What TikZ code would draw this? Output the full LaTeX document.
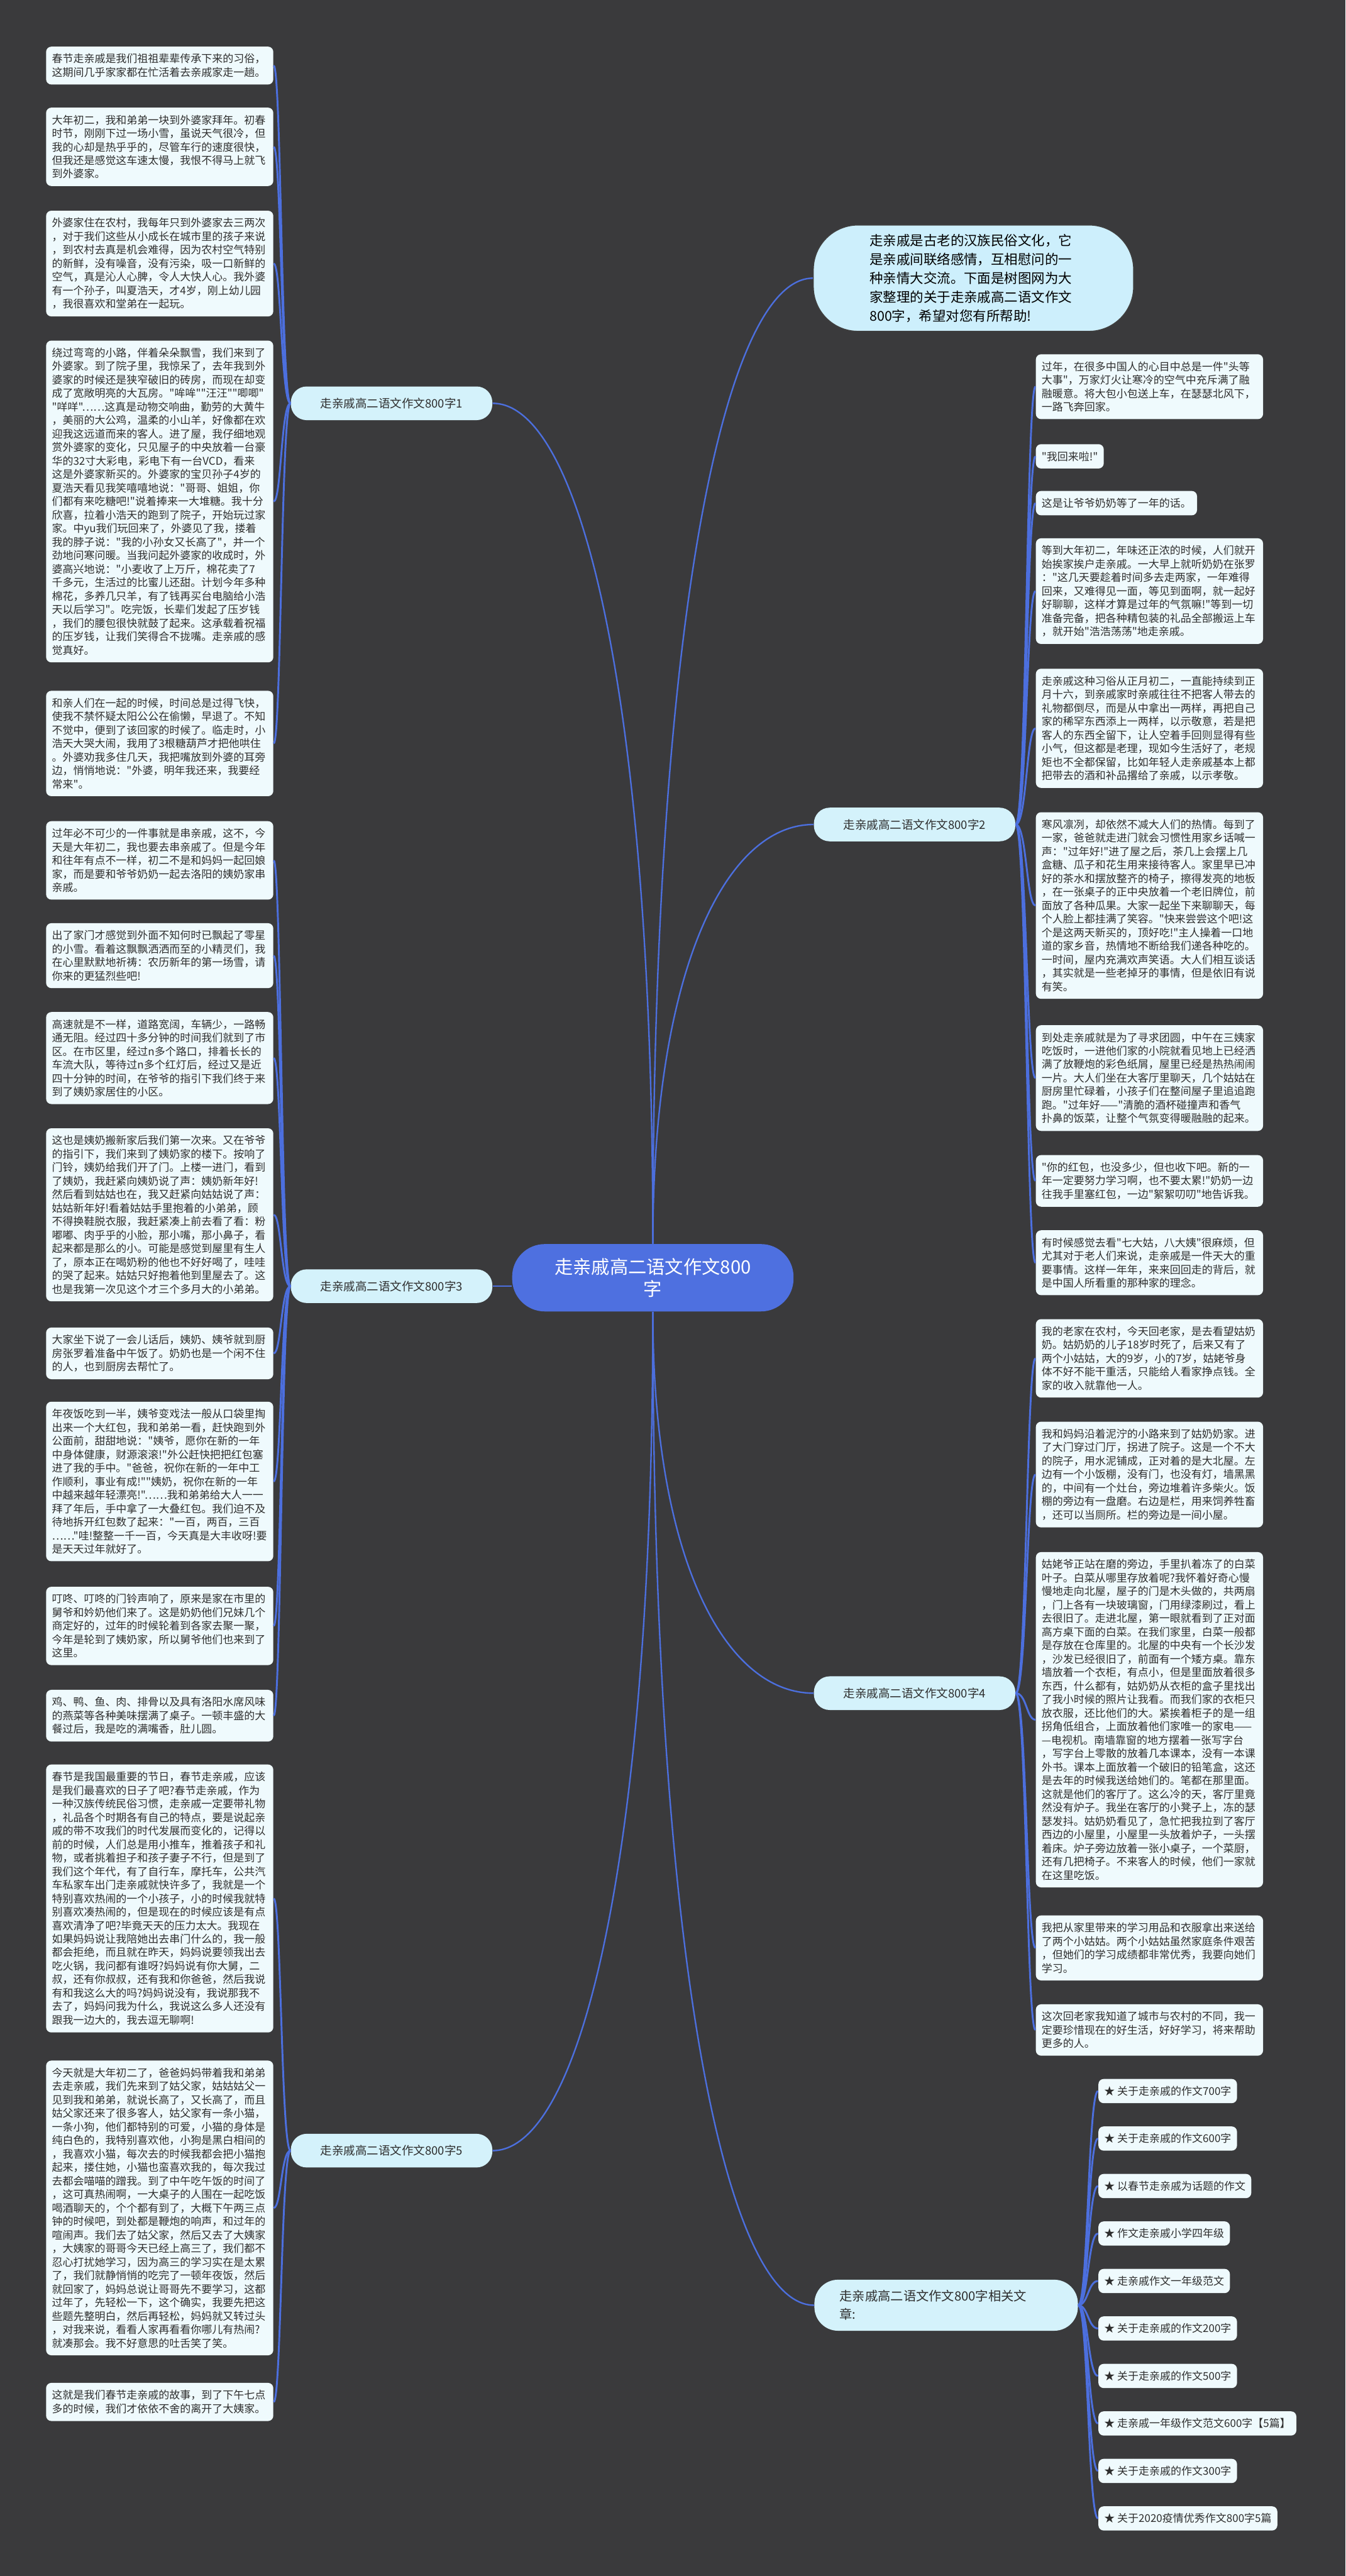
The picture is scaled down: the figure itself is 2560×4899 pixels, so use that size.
\documentclass[tikz,border=0pt]{standalone}
\usepackage{fontspec}
\setmainfont{Noto Sans CJK SC}[Ligatures=TeXOff]
\usepackage{xcolor}
\usepackage{tikz}
\usetikzlibrary{positioning}
\definecolor{bgdark}{HTML}{3A3A3C}
\definecolor{linkblue}{HTML}{4C6FDE}
\definecolor{rootblue}{HTML}{4E70E0}
\definecolor{leaffill}{HTML}{EFFAFD}
\definecolor{branchfill}{HTML}{D4F2FB}
\definecolor{bubblefill}{HTML}{CDEFFC}
\definecolor{leaftext}{HTML}{2E2E2E}

\begin{document}
\begin{tikzpicture}[x=0.01cm,y=-0.01cm,
  box/.style={anchor=north west,fill=leaffill,rounded corners=0.1cm,text=leaftext,font=\fontsize{5.78pt}{7.31pt}\selectfont,align=left,inner xsep=0.11cm,inner ysep=3.9pt},
  leaf/.style={box,text width=4.1cm},
  item/.style={box,minimum height=0.46cm,inner ysep=0pt},
  branch/.style={fill=branchfill,rounded corners=0.3cm,text=leaftext,font=\fontsize{6.3pt}{7.6pt}\selectfont,minimum width=3.83cm,minimum height=0.64cm,inner sep=0pt},
  root/.style={fill=rootblue,rounded corners=0.62cm,text=white,font=\fontsize{9.96pt}{12.2pt}\selectfont,align=center,minimum width=5.35cm,minimum height=1.28cm},
  bubble/.style={fill=bubblefill,draw=black!75,line width=0.5pt,rounded corners=0.85cm,text=black,font=\fontsize{7.3pt}{10.24pt}\selectfont,align=left,text width=3.95cm,minimum height=2.02cm,inner xsep=1.07cm},
  link/.style={draw=linkblue,line width=0.8pt},
  twig/.style={draw=linkblue,line width=1pt}]
  \fill[bgdark] (0,0) rectangle (2560,4899);

  % centre, intro and branches
  \node[root] (root) at (1242,2430) {走亲戚高二语文作文800\\字};
  \node[bubble] (intro) at (1852,529) {走亲戚是古老的汉族民俗文化，它\\是亲戚间联络感情，互相慰问的一\\种亲情大交流。下面是树图网为大\\家整理的关于走亲戚高二语文作文\\800字，希望对您有所帮助!};
  \node[branch] (br1) at (745,767) {走亲戚高二语文作文800字1};
  \node[branch] (br3) at (745,2446) {走亲戚高二语文作文800字3};
  \node[branch] (br5) at (745,4090) {走亲戚高二语文作文800字5};
  \node[branch] (br2) at (1740,1568) {走亲戚高二语文作文800字2};
  \node[branch] (br4) at (1740,3220) {走亲戚高二语文作文800字4};
  \node[branch,minimum width=5.0cm,minimum height=0.97cm,align=left,text width=4.05cm,inner xsep=0.48cm,rounded corners=0.45cm,font=\fontsize{6.9pt}{10pt}\selectfont] (rel) at (1800,4384) {走亲戚高二语文作文800字相关文\\章:};

  % left column
  \node[leaf] (b1) at (87,88) {春节走亲戚是我们祖祖辈辈传承下来的习俗，\\这期间几乎家家都在忙活着去亲戚家走一趟。};
  \node[leaf] (b2) at (87,204) {大年初二，我和弟弟一块到外婆家拜年。初春\\时节，刚刚下过一场小雪，虽说天气很冷，但\\我的心却是热乎乎的，尽管车行的速度很快，\\但我还是感觉这车速太慢，我恨不得马上就飞\\到外婆家。};
  \node[leaf] (b3) at (87,400) {外婆家住在农村，我每年只到外婆家去三两次\\，对于我们这些从小成长在城市里的孩子来说\\，到农村去真是机会难得，因为农村空气特别\\的新鲜，没有噪音，没有污染，吸一口新鲜的\\空气，真是沁人心脾，令人大快人心。我外婆\\有一个孙子，叫夏浩天，才4岁，刚上幼儿园\\，我很喜欢和堂弟在一起玩。};
  \node[leaf] (b4) at (87,647) {绕过弯弯的小路，伴着朵朵飘雪，我们来到了\\外婆家。到了院子里，我惊呆了，去年我到外\\婆家的时候还是狭窄破旧的砖房，而现在却变\\成了宽敞明亮的大瓦房。"哞哞""汪汪""唧唧"\\"咩咩"……这真是动物交响曲，勤劳的大黄牛\\，美丽的大公鸡，温柔的小山羊，好像都在欢\\迎我这远道而来的客人。进了屋，我仔细地观\\赏外婆家的变化，只见屋子的中央放着一台豪\\华的32寸大彩电，彩电下有一台VCD，看来\\这是外婆家新买的。外婆家的宝贝孙子4岁的\\夏浩天看见我笑嘻嘻地说："哥哥、姐姐，你\\们都有来吃糖吧!"说着捧来一大堆糖。我十分\\欣喜，拉着小浩天的跑到了院子，开始玩过家\\家。中yu我们玩回来了，外婆见了我，搂着\\我的脖子说："我的小孙女又长高了"，并一个\\劲地问寒问暖。当我问起外婆家的收成时，外\\婆高兴地说："小麦收了上万斤，棉花卖了7\\千多元，生活过的比蜜儿还甜。计划今年多种\\棉花，多养几只羊，有了钱再买台电脑给小浩\\天以后学习"。吃完饭，长辈们发起了压岁钱\\，我们的腰包很快就鼓了起来。这承载着祝福\\的压岁钱，让我们笑得合不拢嘴。走亲戚的感\\觉真好。};
  \node[leaf] (b5) at (87,1313) {和亲人们在一起的时候，时间总是过得飞快，\\使我不禁怀疑太阳公公在偷懒，早退了。不知\\不觉中，便到了该回家的时候了。临走时，小\\浩天大哭大闹，我用了3根糖葫芦才把他哄住\\。外婆劝我多住几天，我把嘴放到外婆的耳旁\\边，悄悄地说："外婆，明年我还来，我要经\\常来"。};
  \node[leaf] (b6) at (87,1561) {过年必不可少的一件事就是串亲戚，这不，今\\天是大年初二，我也要去串亲戚了。但是今年\\和往年有点不一样，初二不是和妈妈一起回娘\\家，而是要和爷爷奶奶一起去洛阳的姨奶家串\\亲戚。};
  \node[leaf] (b7) at (87,1755) {出了家门才感觉到外面不知何时已飘起了零星\\的小雪。看着这飘飘洒洒而至的小精灵们，我\\在心里默默地祈祷：农历新年的第一场雪，请\\你来的更猛烈些吧!};
  \node[leaf] (b8) at (87,1924) {高速就是不一样，道路宽阔，车辆少，一路畅\\通无阻。经过四十多分钟的时间我们就到了市\\区。在市区里，经过n多个路口，排着长长的\\车流大队，等待过n多个红灯后，经过又是近\\四十分钟的时间，在爷爷的指引下我们终于来\\到了姨奶家居住的小区。};
  \node[leaf] (b9) at (87,2145) {这也是姨奶搬新家后我们第一次来。又在爷爷\\的指引下，我们来到了姨奶家的楼下。按响了\\门铃，姨奶给我们开了门。上楼一进门，看到\\了姨奶，我赶紧向姨奶说了声：姨奶新年好!\\然后看到姑姑也在，我又赶紧向姑姑说了声：\\姑姑新年好!看着姑姑手里抱着的小弟弟，顾\\不得换鞋脱衣服，我赶紧凑上前去看了看：粉\\嘟嘟、肉乎乎的小脸，那小嘴，那小鼻子，看\\起来都是那么的小。可能是感觉到屋里有生人\\了，原本正在喝奶粉的他也不好好喝了，哇哇\\的哭了起来。姑姑只好抱着他到里屋去了。这\\也是我第一次见这个才三个多月大的小弟弟。};
  \node[leaf] (b10) at (87,2524) {大家坐下说了一会儿话后，姨奶、姨爷就到厨\\房张罗着准备中午饭了。奶奶也是一个闲不住\\的人，也到厨房去帮忙了。};
  \node[leaf] (b11) at (87,2665) {年夜饭吃到一半，姨爷变戏法一般从口袋里掏\\出来一个大红包，我和弟弟一看，赶快跑到外\\公面前，甜甜地说："姨爷，愿你在新的一年\\中身体健康，财源滚滚!"外公赶快把把红包塞\\进了我的手中。"爸爸，祝你在新的一年中工\\作顺利，事业有成!""姨奶，祝你在新的一年\\中越来越年轻漂亮!"……我和弟弟给大人一一\\拜了年后，手中拿了一大叠红包。我们迫不及\\待地拆开红包数了起来："一百，两百，三百\\……"哇!整整一千一百，今天真是大丰收呀!要\\是天天过年就好了。};
  \node[leaf] (b12) at (87,3017) {叮咚、叮咚的门铃声响了，原来是家在市里的\\舅爷和妗奶他们来了。这是奶奶他们兄妹几个\\商定好的，过年的时候轮着到各家去聚一聚，\\今年是轮到了姨奶家，所以舅爷他们也来到了\\这里。};
  \node[leaf] (b13) at (87,3213) {鸡、鸭、鱼、肉、排骨以及具有洛阳水席风味\\的燕菜等各种美味摆满了桌子。一顿丰盛的大\\餐过后，我是吃的满嘴香，肚儿圆。};
  \node[leaf] (b14) at (87,3355) {春节是我国最重要的节日，春节走亲戚，应该\\是我们最喜欢的日子了吧?春节走亲戚，作为\\一种汉族传统民俗习惯，走亲戚一定要带礼物\\，礼品各个时期各有自己的特点，要是说起亲\\戚的带不攻我们的时代发展而变化的，记得以\\前的时候，人们总是用小推车，推着孩子和礼\\物，或者挑着担子和孩子妻子不行，但是到了\\我们这个年代，有了自行车，摩托车，公共汽\\车私家车出门走亲戚就快许多了，我就是一个\\特别喜欢热闹的一个小孩子，小的时候我就特\\别喜欢凑热闹的，但是现在的时候应该是有点\\喜欢清净了吧?毕竟天天的压力太大。我现在\\如果妈妈说让我陪她出去串门什么的，我一般\\都会拒绝，而且就在昨天，妈妈说要领我出去\\吃火锅，我问都有谁呀?妈妈说有你大舅，二\\叔，还有你叔叔，还有我和你爸爸，然后我说\\有和我这么大的吗?妈妈说没有，我说那我不\\去了，妈妈问我为什么，我说这么多人还没有\\跟我一边大的，我去逗无聊啊!};
  \node[leaf] (b15) at (87,3918) {今天就是大年初二了，爸爸妈妈带着我和弟弟\\去走亲戚，我们先来到了姑父家，姑姑姑父一\\见到我和弟弟，就说长高了，又长高了，而且\\姑父家还来了很多客人，姑父家有一条小猫，\\一条小狗，他们都特别的可爱，小猫的身体是\\纯白色的，我特别喜欢他，小狗是黑白相间的\\，我喜欢小猫，每次去的时候我都会把小猫抱\\起来，搂住她，小猫也蛮喜欢我的，每次我过\\去都会喵喵的蹭我。到了中午吃午饭的时间了\\，这可真热闹啊，一大桌子的人围在一起吃饭\\喝酒聊天的，个个都有到了，大概下午两三点\\钟的时候吧，到处都是鞭炮的响声，和过年的\\喧闹声。我们去了姑父家，然后又去了大姨家\\，大姨家的哥哥今天已经上高三了，我们都不\\忍心打扰她学习，因为高三的学习实在是太累\\了，我们就静悄悄的吃完了一顿年夜饭，然后\\就回家了，妈妈总说让哥哥先不要学习，这都\\过年了，先轻松一下，这个确实，我要先把这\\些题先整明白，然后再轻松，妈妈就又转过头\\，对我来说，看看人家再看看你哪儿有热闹?\\就凑那会。我不好意思的吐舌笑了笑。};
  \node[leaf] (b16) at (87,4531) {这就是我们春节走亲戚的故事，到了下午七点\\多的时候，我们才依依不舍的离开了大姨家。};

  % right column
  \node[leaf] (r1) at (1970,673) {过年，在很多中国人的心目中总是一件"头等\\大事"，万家灯火让寒冷的空气中充斥满了融\\融暖意。将大包小包送上车，在瑟瑟北风下，\\一路飞奔回家。};
  \node[box] (r2) at (1970,844) {"我回来啦!"};
  \node[box] (r3) at (1970,933) {这是让爷爷奶奶等了一年的话。};
  \node[leaf] (r4) at (1970,1023) {等到大年初二，年味还正浓的时候，人们就开\\始挨家挨户走亲戚。一大早上就听奶奶在张罗\\："这几天要趁着时间多去走两家，一年难得\\回来，又难得见一面，等见到面啊，就一起好\\好聊聊，这样才算是过年的气氛嘛!"等到一切\\准备完备，把各种精包装的礼品全部搬运上车\\，就开始"浩浩荡荡"地走亲戚。};
  \node[leaf] (r5) at (1970,1271) {走亲戚这种习俗从正月初二，一直能持续到正\\月十六，到亲戚家时亲戚往往不把客人带去的\\礼物都倒尽，而是从中拿出一两样，再把自己\\家的稀罕东西添上一两样，以示敬意，若是把\\客人的东西全留下，让人空着手回则显得有些\\小气，但这都是老理，现如今生活好了，老规\\矩也不全都保留，比如年轻人走亲戚基本上都\\把带去的酒和补品撂给了亲戚，以示孝敬。};
  \node[leaf] (r6) at (1970,1544) {寒风凛冽，却依然不减大人们的热情。每到了\\一家，爸爸就走进门就会习惯性用家乡话喊一\\声："过年好!"进了屋之后，茶几上会摆上几\\盒糖、瓜子和花生用来接待客人。家里早已冲\\好的茶水和摆放整齐的椅子，擦得发亮的地板\\，在一张桌子的正中央放着一个老旧牌位，前\\面放了各种瓜果。大家一起坐下来聊聊天，每\\个人脸上都挂满了笑容。"快来尝尝这个吧!这\\个是这两天新买的，顶好吃!"主人操着一口地\\道的家乡音，热情地不断给我们递各种吃的。\\一时间，屋内充满欢声笑语。大人们相互谈话\\，其实就是一些老掉牙的事情，但是依旧有说\\有笑。};
  \node[leaf] (r7) at (1970,1949) {到处走亲戚就是为了寻求团圆，中午在三姨家\\吃饭时，一进他们家的小院就看见地上已经洒\\满了放鞭炮的彩色纸屑，屋里已经是热热闹闹\\一片。大人们坐在大客厅里聊天，几个姑姑在\\厨房里忙碌着，小孩子们在整间屋子里追追跑\\跑。"过年好——"清脆的酒杯碰撞声和香气\\扑鼻的饭菜，让整个气氛变得暖融融的起来。};
  \node[leaf] (r8) at (1970,2196) {"你的红包，也没多少，但也收下吧。新的一\\年一定要努力学习啊，也不要太累!"奶奶一边\\往我手里塞红包，一边"絮絮叨叨"地告诉我。};
  \node[leaf] (r9) at (1970,2339) {有时候感觉去看"七大姑，八大姨"很麻烦，但\\尤其对于老人们来说，走亲戚是一件天大的重\\要事情。这样一年年，来来回回走的背后，就\\是中国人所看重的那种家的理念。};
  \node[leaf] (r10) at (1970,2508) {我的老家在农村，今天回老家，是去看望姑奶\\奶。姑奶奶的儿子18岁时死了，后来又有了\\两个小姑姑，大的9岁，小的7岁，姑姥爷身\\体不好不能干重活，只能给人看家挣点钱。全\\家的收入就靠他一人。};
  \node[leaf] (r11) at (1970,2703) {我和妈妈沿着泥泞的小路来到了姑奶奶家。进\\了大门穿过门厅，拐进了院子。这是一个不大\\的院子，用水泥铺成，正对着的是大北屋。左\\边有一个小饭棚，没有门，也没有灯，墙黑黑\\的，中间有一个灶台，旁边堆着许多柴火。饭\\棚的旁边有一盘磨。右边是栏，用来饲养牲畜\\，还可以当厕所。栏的旁边是一间小屋。};
  \node[leaf] (r12) at (1970,2951) {姑姥爷正站在磨的旁边，手里扒着冻了的白菜\\叶子。白菜从哪里存放着呢?我怀着好奇心慢\\慢地走向北屋，屋子的门是木头做的，共两扇\\，门上各有一块玻璃窗，门用绿漆刷过，看上\\去很旧了。走进北屋，第一眼就看到了正对面\\高方桌下面的白菜。在我们家里，白菜一般都\\是存放在仓库里的。北屋的中央有一个长沙发\\，沙发已经很旧了，前面有一个矮方桌。靠东\\墙放着一个衣柜，有点小，但是里面放着很多\\东西，什么都有，姑奶奶从衣柜的盒子里找出\\了我小时候的照片让我看。而我们家的衣柜只\\放衣服，还比他们的大。紧挨着柜子的是一组\\拐角低组合，上面放着他们家唯一的家电——\\—电视机。南墙靠窗的地方摆着一张写字台\\，写字台上零散的放着几本课本，没有一本课\\外书。课本上面放着一个破旧的铅笔盒，这还\\是去年的时候我送给她们的。笔都在那里面。\\这就是他们的客厅了。这么冷的天，客厅里竟\\然没有炉子。我坐在客厅的小凳子上，冻的瑟\\瑟发抖。姑奶奶看见了，急忙把我拉到了客厅\\西边的小屋里，小屋里一头放着炉子，一头摆\\着床。炉子旁边放着一张小桌子，一个菜厨，\\还有几把椅子。不来客人的时候，他们一家就\\在这里吃饭。};
  \node[leaf] (r13) at (1970,3642) {我把从家里带来的学习用品和衣服拿出来送给\\了两个小姑姑。两个小姑姑虽然家庭条件艰苦\\，但她们的学习成绩都非常优秀，我要向她们\\学习。};
  \node[leaf] (r14) at (1970,3811) {这次回老家我知道了城市与农村的不同，我一\\定要珍惜现在的好生活，好好学习，将来帮助\\更多的人。};

  % related articles
  \foreach \t [count=\i] in {关于走亲戚的作文700字,关于走亲戚的作文600字,以春节走亲戚为话题的作文,作文走亲戚小学四年级,走亲戚作文一年级范文,关于走亲戚的作文200字,关于走亲戚的作文500字,走亲戚一年级作文范文600字【5篇】,关于走亲戚的作文300字,关于2020疫情优秀作文800字5篇}
    \node[item] (a\i) at (2089,{3953+(\i-1)*90.3}) {★ \t};

  % connectors
  \draw[link] (root.north) .. controls (1242,1327) and (1105,767) .. (br1.east);
  \draw[link] (root.north) .. controls (1242,1172) and (1380,529) .. (intro.west);
  \draw[link] (root.north) .. controls (1242,1847) and (1380,1568) .. (br2.west);
  \draw[link] (br3.east) -- (br3.east -| root.west);
  \draw[link] (root.south) .. controls (1242,2966) and (1380,3220) .. (br4.west);
  \draw[link] (root.south) .. controls (1242,3531) and (1105,4090) .. (br5.east);
  \draw[link] (root.south) .. controls (1242,3723) and (1380,4384) .. (rel.west);

  \coordinate (spL) at (535,0);
  \coordinate (spR) at (1953,0);
  \coordinate (spA) at (2070,0);
  \foreach \n in {b1,b2,b3,b4,b5}
    \draw[twig] (br1.west) .. controls (spL |- br1.west) and (spL |- \n.east) .. (\n.east);
  \foreach \n in {b6,b7,b8,b9,b10,b11,b12,b13}
    \draw[twig] (br3.west) .. controls (spL |- br3.west) and (spL |- \n.east) .. (\n.east);
  \foreach \n in {b14,b15,b16}
    \draw[twig] (br5.west) .. controls (spL |- br5.west) and (spL |- \n.east) .. (\n.east);
  \foreach \n in {r1,r2,r3,r4,r5,r6,r7,r8,r9}
    \draw[twig] (br2.east) .. controls (spR |- br2.east) and (spR |- \n.west) .. (\n.west);
  \foreach \n in {r10,r11,r12,r13,r14}
    \draw[twig] (br4.east) .. controls (spR |- br4.east) and (spR |- \n.west) .. (\n.west);
  \foreach \i in {1,...,10}
    \draw[twig] (rel.east) .. controls (spA |- rel.east) and (spA |- a\i.west) .. (a\i.west);
\end{tikzpicture}
\end{document}
